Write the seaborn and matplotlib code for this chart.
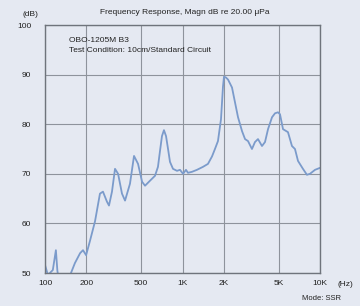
import matplotlib
matplotlib.use("Agg")
import matplotlib.pyplot as plt
import seaborn as sns
import pandas as pd
from matplotlib.ticker import FixedLocator, NullLocator

freq_hz = [100, 105, 114, 120, 123, 126, 137, 152, 165, 180, 189, 199, 212, 231,
           251, 264, 282, 292, 307, 323, 340, 363, 382, 415, 444, 475, 508, 534,
           580, 631, 663, 686, 709, 733, 759, 785, 811, 853, 912, 959, 1009, 1060,
           1096, 1172, 1274, 1409, 1532, 1639, 1722, 1811, 1905, 1970, 2004, 2072,
           2143, 2291, 2409, 2534, 2710, 2850, 2995, 3200, 3365, 3540, 3785, 3981,
           4188, 4477, 4708, 4951, 5118, 5383, 5848, 6253, 6577, 6918, 7516, 8035,
           8453, 9200, 10000]
level_db = [51.6, 49.6, 50.6, 54.6, 50.5, 48.5, 47.5, 49.5, 52.0, 54.0, 54.6, 53.6,
            56.4, 60.4, 66.0, 66.4, 64.4, 63.6, 66.4, 71.0, 70.0, 66.0, 64.6, 68.0,
            73.6, 72.0, 68.4, 67.6, 68.6, 69.6, 71.4, 74.6, 77.6, 78.8, 77.6, 75.0,
            72.4, 71.0, 70.6, 70.8, 70.0, 70.8, 70.2, 70.4, 70.8, 71.4, 72.0, 73.5,
            75.0, 76.6, 81.0, 87.6, 89.6, 89.4, 89.0, 87.4, 84.4, 81.4, 78.6, 77.0,
            76.6, 75.0, 76.4, 77.0, 75.6, 76.4, 79.0, 81.4, 82.2, 82.4, 82.0, 79.0,
            78.4, 75.6, 75.0, 72.6, 71.0, 69.8, 70.0, 70.8, 71.2]

x_ticks = [100, 200, 500, 1000, 2000, 5000, 10000]
x_tick_labels = ["100", "200", "500", "1K", "2K", "5K", "10K"]
y_ticks = [50, 60, 70, 80, 90, 100]
y_tick_labels = ["50", "60", "70", "80", "90", "100"]

title_text = "Frequency Response, Magn dB re 20.00 \u03bcPa"
model_text = "OBO-1205M B3"
cond_text = "Test Condition: 10cm/Standard Circuit"
mode_text = "Mode: SSR"

bg = "#e5e9f2"
line_c = "#7b9bcb"
grid_c = "#8e939c"
text_c = "#222222"

sns.set_theme(style="white")
plt.rcParams["font.family"] = ["Liberation Sans", "DejaVu Sans"]

fig = plt.figure(figsize=(3.6, 3.06), dpi=100, facecolor=bg)
ax = fig.add_axes([45/360, 1-273/306, 275/360, 248/306])
ax.set_facecolor(bg)

df = pd.DataFrame({"freq": freq_hz, "db": level_db})
sns.lineplot(data=df, x="freq", y="db", ax=ax, color=line_c, linewidth=1.3)

ax.set_xscale("log")
ax.set_xlim(100, 10000)
ax.set_ylim(50, 100)
ax.xaxis.set_major_locator(FixedLocator(x_ticks))
ax.xaxis.set_minor_locator(NullLocator())
ax.set_xticks(x_ticks)
ax.set_xticklabels(x_tick_labels)
ax.set_yticks(y_ticks)
ax.set_yticklabels(y_tick_labels)
ax.set_xlabel("")
ax.set_ylabel("")
ax.tick_params(axis="both", length=0, labelsize=6, colors=text_c)
ax.tick_params(axis="x", pad=5)
ax.tick_params(axis="y", pad=10)
ax.grid(True, color=grid_c, linewidth=0.8)
for s in ax.spines.values():
    s.set_color("#6f747c")
    s.set_linewidth(1.0)
    s.set_visible(True)

fig.text(185/360, 1-12/306, title_text, ha="center", va="center", fontsize=6, color=text_c)
fig.text(30/360, 1-14/306, "(dB)", ha="center", va="center", fontsize=6, color=text_c)
fig.text(345/360, 1-285/306, "(Hz)", ha="center", va="center", fontsize=6, color=text_c)
fig.text(321/360, 1-298/306, mode_text, ha="center", va="center", fontsize=5.5, color=text_c)
ax.text(69/360, 1-40/306, model_text, transform=fig.transFigure, ha="left", va="center", fontsize=6, color=text_c)
ax.text(69/360, 1-50/306, cond_text, transform=fig.transFigure, ha="left", va="center", fontsize=6, color=text_c)

fig.savefig("out.png", dpi=100, facecolor=bg)
